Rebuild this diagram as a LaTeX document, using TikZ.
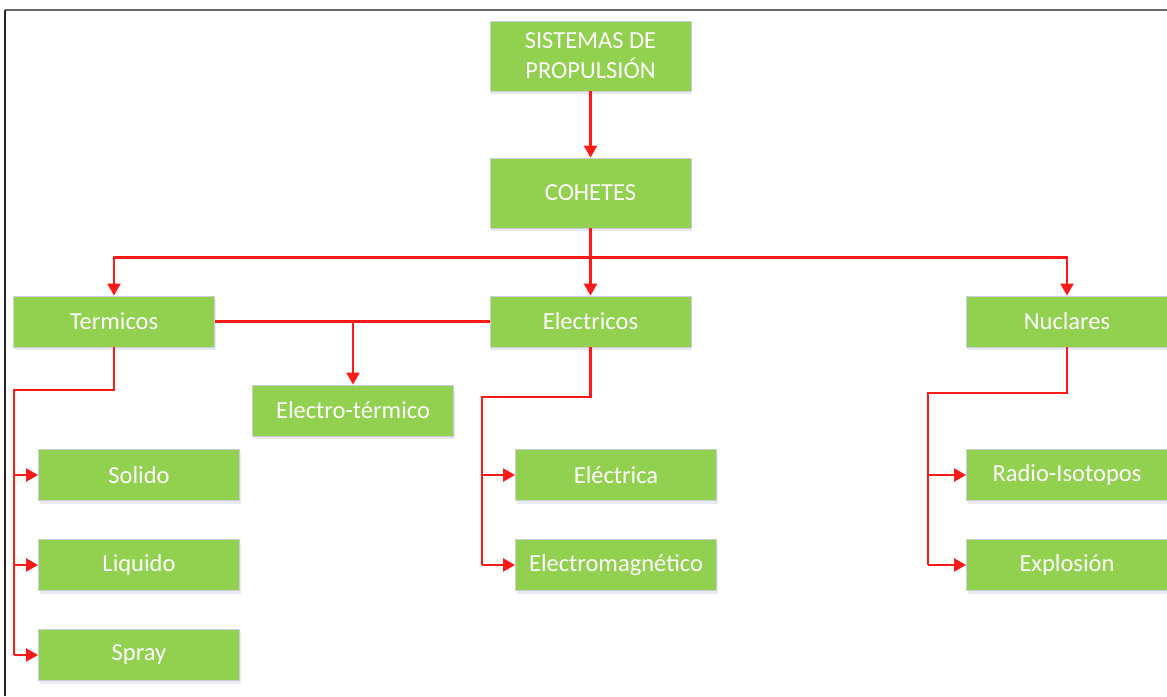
\documentclass[tikz,border=0pt]{standalone}
\usepackage{fontspec}
\setmainfont{Carlito}
\usetikzlibrary{arrows.meta,shadows}
\definecolor{boxgreen}{HTML}{92D050}
\definecolor{boxedge}{HTML}{C9CDD6}
\definecolor{linkred}{HTML}{FF1A1A}
\tikzset{
  box/.style={rectangle, fill=boxgreen, draw=boxedge, line width=0.8pt,
    minimum width=201pt, minimum height=51pt, inner sep=0pt,
    text=white, font=\fontsize{24.5}{30}\selectfont, align=center,
    drop shadow={shadow xshift=1pt, shadow yshift=-3pt, opacity=0.12, fill=blue!40!gray}},
  tallbox/.style={box, minimum height=70pt},
  link/.style={draw=linkred, line width=2.2pt},
  conn/.style={link, -{Triangle[length=12pt,width=13pt]}},
}
\begin{document}
\begin{tikzpicture}[x=1pt,y=-1pt]
\useasboundingbox (0,0) rectangle (1167,696);
% frame
\draw[gray!80!black, line width=2pt] (5,10) -- (1167,10);
\draw[black!85, line width=1.5pt] (5,10) -- (5,696);

% nodes
\node[tallbox] (sis) at (590.5,56) {SISTEMAS DE\\PROPULSIÓN};
\node[tallbox] (coh) at (590.5,193) {COHETES};
\node[box] (ter) at (114,321.5) {Termicos};
\node[box] (ele) at (590.5,321.5) {Electricos};
\node[box] (nuc) at (1067,321.5) {Nuclares};
\node[box] (et) at (353,410.5) {Electro-térmico};
\node[box] (sol) at (139,475) {Solido};
\node[box] (liq) at (139,565) {Liquido};
\node[box] (spr) at (139,655) {Spray};
\node[box] (eca) at (616,475) {Eléctrica};
\node[box] (ema) at (616,565) {Electromagnético};
\node[box] (rad) at (1067,475) {Radio-Isotopos};
\node[box] (exp) at (1067,565) {Explosión};

% elbow points of the rails
\coordinate (tjoin) at (114,390);
\coordinate (tbend) at (14,390);
\coordinate (ejoin) at (590.5,397);
\coordinate (ebend) at (482,397);
\coordinate (njoin) at (1067,393);
\coordinate (nbend) at (928,393);

% connectors
\draw[conn] (sis) -- (coh);
\draw[conn] (coh) -- (ele);
\draw[conn] (coh.south) ++(0,29) -| (ter.north);
\draw[conn] (coh.south) ++(0,29) -| (nuc.north);
\draw[link] (ter.east) -- (ele.west);
\draw[conn] (et.north |- ter.east) -- (et.north);

\draw[link] (ter.south) -- (tjoin) -- (tbend) -- (tbend |- spr.west);
\draw[conn] (tbend |- sol.west) -- (sol.west);
\draw[conn] (tbend |- liq.west) -- (liq.west);
\draw[conn] (tbend |- spr.west) -- (spr.west);

\draw[link] (ele.south) -- (ejoin) -- (ebend) -- (ebend |- ema.west);
\draw[conn] (ebend |- eca.west) -- (eca.west);
\draw[conn] (ebend |- ema.west) -- (ema.west);

\draw[link] (nuc.south) -- (njoin) -- (nbend) -- (nbend |- exp.west);
\draw[conn] (nbend |- rad.west) -- (rad.west);
\draw[conn] (nbend |- exp.west) -- (exp.west);
\end{tikzpicture}
\end{document}
